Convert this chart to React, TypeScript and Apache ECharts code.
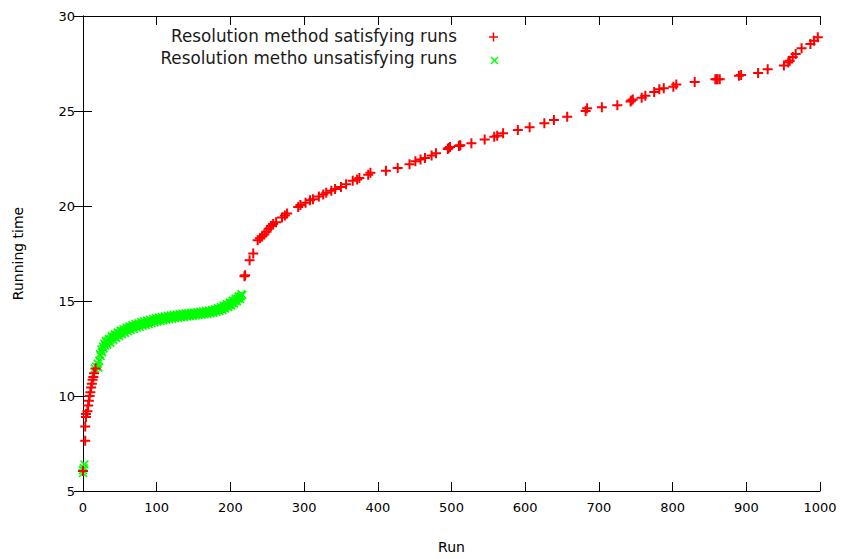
import React, { useEffect, useRef } from "react";
import * as echarts from "echarts";

const xTicks = [0, 100, 200, 300, 400, 500, 600, 700, 800, 900, 1000];
const yTicks = [5, 10, 15, 20, 25, 30];

const satisfyingName = "Resolution method satisfying runs";
const unsatisfyingName = "Resolution metho unsatisfying runs";

// [run, running time]
const satisfyingRuns: number[][] = [
  [0, 6.05], [3, 7.65], [3, 8.4], [4, 8.9], [4, 9.05], [6, 9.2], [7, 9.5], [8, 9.75],
  [9, 10.0], [10, 10.2], [11, 10.45], [12, 10.65], [13, 10.85], [14, 11.0], [15, 11.2], [17, 11.45],
  [219, 16.3], [220, 16.35], [226, 17.15], [231, 17.5], [237, 18.2], [240, 18.3], [243, 18.4],
  [246, 18.5], [249, 18.65], [252, 18.8], [255, 18.95], [258, 19.05], [262, 19.15], [270, 19.4],
  [274, 19.5], [277, 19.6], [292, 19.95], [295, 20.05], [302, 20.17], [308, 20.3], [312, 20.35],
  [320, 20.5], [326, 20.6], [330, 20.7], [337, 20.8], [342, 20.9], [350, 21.0], [357, 21.15],
  [366, 21.33], [372, 21.4], [375, 21.47], [387, 21.65], [390, 21.75], [411, 21.86], [427, 22.0],
  [443, 22.2], [451, 22.35], [458, 22.45], [464, 22.52], [473, 22.66], [479, 22.78], [495, 23.0],
  [496, 23.05], [498, 23.1], [510, 23.16], [511, 23.18], [512, 23.2], [527, 23.3], [545, 23.5],
  [558, 23.65], [562, 23.7], [570, 23.83], [590, 24.0], [606, 24.14], [626, 24.35], [639, 24.52],
  [657, 24.7], [682, 25.0], [684, 25.14], [704, 25.2], [725, 25.3], [743, 25.5], [744, 25.55],
  [746, 25.6], [758, 25.7], [763, 25.8], [775, 26.0], [782, 26.15], [788, 26.2], [801, 26.27],
  [805, 26.4], [830, 26.53], [858, 26.67], [860, 26.67], [861, 26.67], [864, 26.67], [890, 26.85],
  [893, 26.9], [916, 27.0], [929, 27.2], [951, 27.4], [957, 27.55], [959, 27.65], [963, 27.84],
  [967, 28.0], [975, 28.3], [987, 28.53], [992, 28.7], [997, 28.88],
];

const unsatisfyingRuns: number[][] = [
  [0, 5.95], [1, 6.2], [2, 6.4], [0, 6.1],
  [16, 11.45], [18, 11.55], [20, 11.7], [21, 11.5], [22, 11.85], [23, 12.2], [24, 12.1], [25, 12.45],
  [26, 12.3], [27, 12.6], [28, 12.5], [29, 12.75], [30, 12.65], [31, 12.9], [32, 12.8], [33, 12.7],
  [34, 12.88], [35, 13.0], [36, 12.95], [37, 12.8], [38, 13.0], [39, 13.15], [40, 13.08], [41, 12.95],
  [42, 13.12], [43, 13.25], [44, 13.18], [45, 13.05], [46, 13.22], [47, 13.35], [48, 13.28],
  [49, 13.15], [50, 13.3], [51, 13.45], [52, 13.36], [53, 13.25], [54, 13.4], [55, 13.52],
  [56, 13.45], [57, 13.32], [58, 13.48], [59, 13.6], [60, 13.52], [61, 13.4], [62, 13.55],
  [63, 13.66], [64, 13.58], [65, 13.47], [66, 13.62], [67, 13.72], [68, 13.64], [69, 13.53],
  [70, 13.67], [71, 13.78], [72, 13.7], [73, 13.6], [74, 13.72], [75, 13.83], [76, 13.75],
  [77, 13.64], [78, 13.77], [79, 13.88], [80, 13.8], [81, 13.7], [82, 13.82], [83, 13.93],
  [84, 13.84], [85, 13.74], [86, 13.86], [87, 13.97], [88, 13.89], [89, 13.79], [90, 13.91],
  [91, 14.02], [92, 13.93], [93, 13.83], [94, 13.95], [95, 14.06], [96, 13.97], [97, 13.87],
  [98, 13.99], [99, 14.1], [100, 14.01], [101, 13.92], [102, 14.03], [103, 14.13], [104, 14.04],
  [105, 13.95], [106, 14.06], [107, 14.16], [108, 14.08], [109, 13.98], [110, 14.09], [111, 14.19],
  [112, 14.11], [113, 14.02], [114, 14.12], [115, 14.22], [116, 14.13], [117, 14.04], [118, 14.15],
  [119, 14.24], [120, 14.16], [121, 14.07], [122, 14.17], [123, 14.27], [124, 14.18], [125, 14.1],
  [126, 14.2], [127, 14.29], [128, 14.21], [129, 14.12], [130, 14.22], [131, 14.31], [132, 14.23],
  [133, 14.14], [134, 14.24], [135, 14.33], [136, 14.25], [137, 14.16], [138, 14.26], [139, 14.35],
  [140, 14.27], [141, 14.18], [142, 14.28], [143, 14.36], [144, 14.29], [145, 14.2], [146, 14.3],
  [147, 14.38], [148, 14.31], [149, 14.22], [150, 14.31], [151, 14.39], [152, 14.32], [153, 14.24],
  [154, 14.33], [155, 14.41], [156, 14.34], [157, 14.26], [158, 14.35], [159, 14.43], [160, 14.36],
  [161, 14.28], [162, 14.37], [163, 14.45], [164, 14.38], [165, 14.3], [166, 14.39], [167, 14.47],
  [168, 14.4], [169, 14.32], [170, 14.41], [171, 14.5], [172, 14.43], [173, 14.35], [174, 14.44],
  [175, 14.53], [176, 14.46], [177, 14.38], [178, 14.48], [179, 14.57], [180, 14.5], [181, 14.42],
  [182, 14.52], [183, 14.62], [184, 14.55], [185, 14.47], [186, 14.58], [187, 14.68], [188, 14.61],
  [189, 14.53], [190, 14.64], [191, 14.75], [192, 14.68], [193, 14.6], [194, 14.72], [195, 14.83],
  [196, 14.76], [197, 14.68], [198, 14.8], [199, 14.92], [200, 14.84], [201, 14.76], [202, 14.89],
  [203, 15.02], [204, 14.94], [205, 14.86], [206, 15.0], [207, 15.12], [208, 15.06], [209, 14.98],
  [210, 15.12], [211, 15.24], [212, 15.18], [213, 15.1], [214, 15.25], [215, 15.36], [216, 15.32],
];

const PLUS = "path://M4,0H6V4H10V6H6V10H4V6H0V4H4Z";
const XMARK = "path://M4.25,0H5.75V4.25H10V5.75H5.75V10H4.25V5.75H0V4.25H4.25Z";
const FONT = "DejaVu Sans";

export default function App() {
  const ref = useRef<HTMLDivElement>(null);
  useEffect(() => {
    if (!ref.current) return;
    const chart = echarts.init(ref.current, null, { renderer: "svg" });
    const axisCommon = {
      type: "value" as const,
      axisLine: { show: true, lineStyle: { color: "#000", width: 1 } },
      axisTick: { show: true, inside: true, length: 9, lineStyle: { color: "#000", width: 1 } },
      splitLine: { show: false },
    };
    const fmt = (v: number) => String(v);
    chart.setOption({
      animation: false,
      backgroundColor: "#fff",
      grid: { left: 83, right: 24, top: 16, bottom: 64, containLabel: false },
      xAxis: [
        {
          ...axisCommon,
          position: "bottom",
          min: xTicks[0],
          max: xTicks[xTicks.length - 1],
          interval: 100,
          name: "Run",
          nameLocation: "middle",
          nameGap: 49,
          nameTextStyle: { fontFamily: FONT, fontSize: 14, color: "#000" },
          axisLabel: { fontFamily: FONT, fontSize: 13, color: "#000", margin: 10, formatter: fmt },
        },
        {
          ...axisCommon,
          position: "top",
          min: xTicks[0],
          max: xTicks[xTicks.length - 1],
          interval: 100,
          axisLabel: { show: false },
        },
      ],
      yAxis: [
        {
          ...axisCommon,
          position: "left",
          min: yTicks[0],
          max: yTicks[yTicks.length - 1],
          interval: 5,
          name: "Running time",
          nameLocation: "middle",
          nameGap: 58,
          nameTextStyle: { fontFamily: FONT, fontSize: 14, color: "#000" },
          axisLabel: { fontFamily: FONT, fontSize: 13, color: "#000", margin: 8, formatter: fmt },
        },
        {
          ...axisCommon,
          position: "right",
          min: yTicks[0],
          max: yTicks[yTicks.length - 1],
          interval: 5,
          axisLabel: { show: false },
        },
      ],
      series: [
        {
          name: unsatisfyingName,
          type: "scatter",
          data: unsatisfyingRuns,
          symbol: XMARK,
          symbolSize: 11,
          symbolRotate: 45,
          itemStyle: { color: "#00ff00", opacity: 1 },
          z: 2,
        },
        {
          name: satisfyingName,
          type: "scatter",
          data: satisfyingRuns,
          symbol: PLUS,
          symbolSize: 10,
          itemStyle: { color: "#ff0000", opacity: 1 },
          z: 3,
        },
      ],
      graphic: [
        {
          type: "text",
          right: 844 - 457,
          top: 27,
          style: { text: satisfyingName, font: `16.8px '${FONT}'`, fill: "#1a1a1a", textAlign: "right" },
        },
        {
          type: "text",
          right: 844 - 457,
          top: 49,
          style: { text: unsatisfyingName, font: `16.8px '${FONT}'`, fill: "#1a1a1a", textAlign: "right" },
        },
        { type: "line", shape: { x1: 489, y1: 37, x2: 498, y2: 37 }, style: { stroke: "#ff0000", lineWidth: 1.5 } },
        { type: "line", shape: { x1: 493.5, y1: 32.5, x2: 493.5, y2: 41.5 }, style: { stroke: "#ff0000", lineWidth: 1.5 } },
        { type: "line", shape: { x1: 491, y1: 57, x2: 498, y2: 64 }, style: { stroke: "#00ff00", lineWidth: 1.5 } },
        { type: "line", shape: { x1: 498, y1: 57, x2: 491, y2: 64 }, style: { stroke: "#00ff00", lineWidth: 1.5 } },
      ],
    });
    return () => chart.dispose();
  }, []);
  return <div ref={ref} style={{ width: 844, height: 559, position: "absolute", left: 0, top: 0 }} />;
}
